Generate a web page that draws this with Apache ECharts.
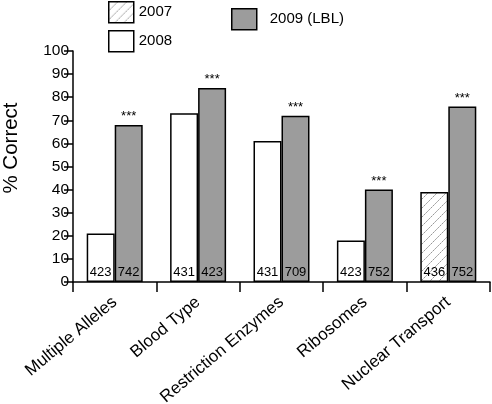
<!DOCTYPE html>
<html><head><meta charset="utf-8">
<script src="https://cdn.jsdelivr.net/npm/echarts@6/dist/echarts.min.js"></script>
<style>html,body{margin:0;padding:0;background:#fff}#c{width:492px;height:404px}</style>
</head><body><div id="c"></div><script>
const categories = ['Multiple Alleles','Blood Type','Restriction Enzymes','Ribosomes','Nuclear Transport'];
const pct2007 = [null,null,null,null,39];
const pct2008 = [21,73,61,18,null];
const pct2009 = [68,84,72,40,76];
const n2007 = [null,null,null,null,436];
const n2008 = [423,431,431,423,null];
const n2009 = [742,423,709,752,752];
const sig2009 = ['***','***','***','***','***'];

const FONT = "'Liberation Sans', Arial, sans-serif";
const pc = document.createElement('canvas'); pc.width = 9; pc.height = 9;
const g = pc.getContext('2d');
g.fillStyle = '#fff'; g.fillRect(0,0,9,9);
g.strokeStyle = '#8a8a8a'; g.lineWidth = 1; g.setLineDash([2,1]);
g.beginPath(); g.moveTo(-1,10); g.lineTo(10,-1); g.stroke();
const hatch = {image: pc, repeat: 'repeat'};

const chart = echarts.init(document.getElementById('c'), null, {renderer:'canvas'});
const border = {borderColor:'#000', borderWidth:1.5};
const countLabel = arr => ({show:true, position:'insideBottom', distance:3, color:'#000', fontSize:13, fontFamily:FONT,
  formatter: p => arr[p.dataIndex] == null ? '' : String(arr[p.dataIndex])});
const legendBase = {selectedMode:false, itemWidth:25, itemHeight:21, icon:'rect', padding:0,
  textStyle:{fontSize:15, fontFamily:FONT, color:'#000'}, itemStyle:{borderColor:'#000', borderWidth:1.5}};
chart.setOption({
  animation:false,
  backgroundColor:'#fff',
  grid:{left:73, right:2, top:51, bottom:122, containLabel:false, outerBoundsMode:'none'},
  legend:[
    Object.assign({}, legendBase, {data:['2007'], left:108, top:1}),
    Object.assign({}, legendBase, {data:['2008'], left:108, top:30}),
    Object.assign({}, legendBase, {data:['2009 (LBL)'], left:231, top:8, textStyle:{fontSize:15, fontFamily:FONT, color:'#000', padding:[0,0,0,8]}})
  ],
  graphic:[{type:'text', x:11, y:148, rotation:Math.PI/2,
    style:{text:'% Correct', font:'20.5px ' + FONT, fill:'#000', textAlign:'center', textVerticalAlign:'middle'}}],
  xAxis:{type:'category', data:categories,
    axisLine:{lineStyle:{color:'#000', width:1.5}},
    axisTick:{show:true, length:10, lineStyle:{color:'#000', width:1.5}},
    axisLabel:{rotate:40, fontSize:17, fontFamily:FONT, color:'#000', margin:18, interval:0}},
  yAxis:{type:'value', min:0, max:100, interval:10,
    axisLine:{show:true, lineStyle:{color:'#000', width:1.5}},
    axisTick:{show:true, length:9, lineStyle:{color:'#000', width:1.5}},
    axisLabel:{fontSize:15.5, fontFamily:FONT, color:'#000', margin:4},
    splitLine:{show:false}},
  series:[
    {name:'2007', type:'bar', stack:'a', data:pct2007, barWidth:28, barGap:'0%',
      itemStyle:Object.assign({color:hatch}, border), label:countLabel(n2007)},
    {name:'2008', type:'bar', stack:'a', data:pct2008, barWidth:28, barGap:'0%',
      itemStyle:Object.assign({color:'#fff'}, border), label:countLabel(n2008)},
    {name:'2009 (LBL)', type:'bar', stack:'b', data:pct2009, barWidth:28, barGap:'0%',
      itemStyle:Object.assign({color:'#9c9c9c'}, border), label:countLabel(n2009)},
    {name:'sig', type:'bar', stack:'b', data:sig2009.map(()=>0), barWidth:28, barGap:'0%',
      itemStyle:{color:'rgba(0,0,0,0)', borderWidth:0},
      label:{show:true, position:'top', distance:2, fontSize:13, fontFamily:FONT, color:'#000',
        formatter:p => sig2009[p.dataIndex]}}
  ]
});
</script></body></html>
